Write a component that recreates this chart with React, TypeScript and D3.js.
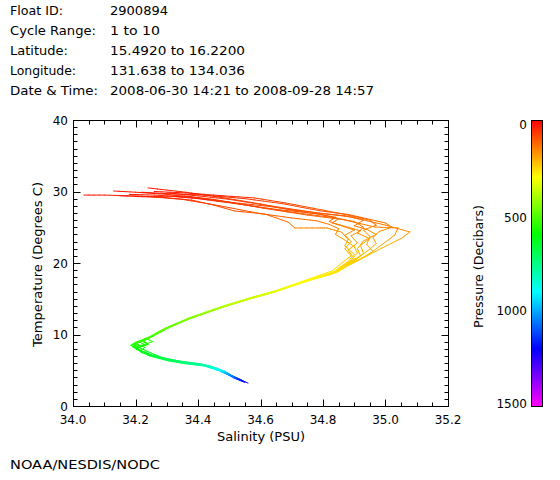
import React from "react";
import * as d3 from "d3";

type Pt = [number, number, number]; // salinity (PSU), temperature (°C), pressure (dbar)

const headerLabels = ["Float ID:", "Cycle Range:", "Latitude:", "Longitude:", "Date & Time:"];
const headerValues = [
  "2900894",
  "1 to 10",
  "15.4920 to 16.2200",
  "131.638 to 134.036",
  "2008-06-30 14:21 to 2008-09-28 14:57",
];
const salinityTicks = [34.0, 34.2, 34.4, 34.6, 34.8, 35.0, 35.2];
const temperatureTicks = [0, 10, 20, 30, 40];
const pressureTicks = [0, 500, 1000, 1500];

const cycle01: Pt[] = [
  [34.24, 30.5, 22], [34.30, 30.2, 32], [34.36, 29.9, 42], [34.44, 29.4, 55], [34.54, 28.7, 70],
  [34.66, 27.8, 90], [34.80, 26.9, 108], [34.893, 26.43, 120], [34.957, 25.73, 138], [35.00, 25.3, 148],
  [35.078, 24.34, 172], [35.053, 23.5, 190], [34.989, 22.1, 210], [34.934, 20.84, 230], [34.88, 19.8, 248],
  [34.845, 18.8, 268], [34.76, 17.7, 292], [34.65, 16.1, 328], [34.575, 15.2, 356], [34.49, 14.0, 388],
  [34.38, 12.4, 440], [34.305, 11.0, 482], [34.255, 9.8, 518], [34.21, 8.9, 552], [34.195, 8.4, 575],
  [34.22, 7.7, 612], [34.25, 7.2, 645], [34.30, 6.5, 695], [34.36, 6.1, 740], [34.41, 5.8, 785],
  [34.465, 5.1, 890], [34.505, 4.3, 1050], [34.535, 3.7, 1150], [34.56, 3.2, 1250],
];
const cycle02: Pt[] = [
  [34.13, 30.07, 22], [34.20, 29.9, 32], [34.30, 29.6, 42], [34.40, 29.1, 58], [34.50, 28.5, 72],
  [34.62, 27.6, 92], [34.75, 26.7, 112], [34.86, 26.1, 128], [34.92, 25.5, 142], [34.966, 25.03, 155],
  [35.04, 24.9, 160], [35.03, 23.92, 182], [34.957, 21.54, 220], [34.902, 20.14, 242], [34.87, 19.5, 255],
  [34.835, 18.6, 272], [34.745, 17.5, 296], [34.64, 15.9, 332], [34.565, 15.0, 360], [34.475, 13.8, 392],
  [34.37, 12.2, 448], [34.295, 10.8, 486], [34.245, 9.6, 522], [34.225, 9.1, 540], [34.24, 8.7, 560],
  [34.205, 8.2, 585], [34.215, 7.6, 620], [34.245, 7.0, 655], [34.305, 6.3, 705], [34.36, 5.9, 752],
  [34.42, 5.6, 800], [34.47, 4.9, 910], [34.51, 4.1, 1075],
];
const cycle03: Pt[] = [
  [34.035, 29.5, 22], [34.10, 29.5, 30], [34.246, 29.3, 40], [34.358, 29.37, 48], [34.45, 28.9, 62],
  [34.608, 27.69, 92], [34.72, 27.0, 105], [34.84, 26.3, 124], [34.90, 25.8, 136], [34.93, 25.0, 155],
  [34.91, 24.2, 175], [34.95, 23.4, 192], [34.92, 22.5, 205], [34.93, 21.3, 224], [34.90, 20.3, 240],
  [34.86, 19.44, 256], [34.83, 18.5, 275], [34.74, 17.4, 298], [34.635, 15.8, 334], [34.56, 14.9, 362],
  [34.47, 13.7, 395], [34.365, 12.1, 450], [34.29, 10.7, 490], [34.24, 9.5, 525], [34.19, 8.6, 565],
  [34.20, 8.0, 595], [34.235, 7.4, 630], [34.26, 6.9, 662], [34.315, 6.3, 708], [34.37, 5.9, 755],
  [34.425, 5.6, 805], [34.475, 4.8, 925], [34.515, 4.0, 1090], [34.545, 3.4, 1210],
];
const cycle04: Pt[] = [
  [34.20, 29.3, 22], [34.28, 29.2, 34], [34.38, 28.8, 52], [34.45, 28.1, 75], [34.518, 27.27, 98],
  [34.614, 26.85, 110], [34.688, 25.73, 138], [34.71, 24.9, 156], [34.784, 24.9, 160], [34.813, 24.9, 163],
  [34.86, 24.3, 176], [34.88, 23.3, 194], [34.87, 22.4, 206], [34.90, 21.2, 226], [34.88, 20.2, 242],
  [34.85, 19.3, 258], [34.825, 18.4, 277], [34.735, 17.3, 300], [34.63, 15.8, 334], [34.555, 14.9, 362],
  [34.465, 13.6, 398], [34.36, 12.0, 452], [34.285, 10.6, 492], [34.235, 9.4, 528], [34.255, 9.0, 545],
  [34.22, 8.5, 568], [34.19, 8.3, 580], [34.21, 7.8, 605], [34.24, 7.2, 645], [34.30, 6.6, 690],
  [34.355, 6.2, 735], [34.41, 5.9, 780], [34.46, 5.3, 860], [34.50, 4.5, 1000],
];
const cycle05: Pt[] = [
  [34.30, 29.8, 22], [34.35, 29.6, 34], [34.42, 29.3, 46], [34.50, 28.9, 60], [34.60, 28.2, 80],
  [34.70, 27.4, 97], [34.79, 26.8, 110], [34.85, 26.2, 126], [34.83, 25.6, 140], [34.88, 25.0, 155],
  [34.92, 24.5, 168], [34.89, 23.8, 184], [34.91, 22.8, 200], [34.88, 21.8, 214], [34.90, 20.6, 235],
  [34.87, 19.7, 250], [34.84, 18.7, 270], [34.755, 17.6, 294], [34.645, 16.0, 330], [34.57, 15.1, 358],
  [34.48, 13.9, 390], [34.375, 12.3, 445], [34.30, 10.9, 485], [34.25, 9.7, 520], [34.205, 8.8, 556],
  [34.215, 8.3, 580], [34.205, 7.9, 600], [34.225, 7.5, 625], [34.255, 7.0, 655], [34.31, 6.4, 700],
  [34.365, 6.0, 745], [34.415, 5.7, 795], [34.47, 5.0, 900], [34.51, 4.2, 1065], [34.54, 3.6, 1170],
];
const cycle06: Pt[] = [
  [34.18, 29.6, 22], [34.26, 29.5, 34], [34.37, 29.2, 50], [34.50, 28.5, 70], [34.63, 27.9, 86],
  [34.76, 27.1, 103], [34.87, 26.6, 116], [34.93, 26.0, 130], [34.90, 25.2, 150], [34.94, 24.7, 163],
  [34.97, 24.0, 180], [34.93, 23.1, 196], [34.91, 22.0, 212], [34.92, 21.0, 228], [34.89, 20.0, 245],
  [34.85, 19.0, 262], [34.765, 17.8, 290], [34.655, 16.2, 325], [34.58, 15.3, 352], [34.49, 14.1, 385],
  [34.385, 12.5, 438], [34.31, 11.1, 478], [34.26, 9.9, 515], [34.23, 9.2, 538], [34.20, 8.7, 560],
  [34.23, 8.2, 585], [34.215, 7.7, 612], [34.245, 7.1, 650], [34.30, 6.5, 695], [34.355, 6.1, 740],
  [34.405, 5.8, 785], [34.46, 5.2, 875], [34.50, 4.4, 1030],
];
const cycle07: Pt[] = [
  [34.32, 29.3, 22], [34.40, 29.0, 40], [34.52, 28.3, 70], [34.65, 27.5, 95], [34.78, 26.9, 107],
  [34.84, 26.4, 120], [34.82, 25.8, 136], [34.86, 25.2, 150], [34.90, 24.6, 165], [34.87, 23.9, 182],
  [34.89, 23.0, 198], [34.87, 22.0, 212], [34.89, 21.0, 228], [34.86, 20.0, 245], [34.83, 18.9, 265],
  [34.75, 17.7, 292], [34.64, 16.0, 330], [34.565, 15.1, 358], [34.475, 13.9, 390], [34.37, 12.3, 446],
  [34.295, 10.9, 486], [34.245, 9.7, 520], [34.20, 8.9, 552], [34.185, 8.5, 570], [34.21, 7.9, 600],
  [34.24, 7.3, 638], [34.27, 6.8, 670], [34.32, 6.3, 708], [34.375, 5.95, 750], [34.43, 5.6, 805],
  [34.48, 4.8, 930], [34.515, 3.9, 1105], [34.55, 3.3, 1235],
];
const cycle08: Pt[] = [
  [34.26, 30.0, 22], [34.36, 29.8, 32], [34.48, 29.4, 44], [34.58, 29.1, 58], [34.68, 28.4, 76],
  [34.80, 27.4, 98], [34.89, 26.6, 116], [34.95, 26.0, 130], [34.97, 25.3, 146], [34.93, 24.6, 165],
  [34.95, 23.7, 186], [34.94, 22.6, 203], [34.96, 21.6, 218], [34.92, 20.5, 238], [34.88, 19.6, 252],
  [34.845, 18.7, 270], [34.76, 17.6, 294], [34.65, 16.0, 330], [34.575, 15.1, 358], [34.485, 13.9, 390],
  [34.38, 12.3, 444], [34.305, 10.9, 484], [34.255, 9.7, 520], [34.215, 8.9, 552], [34.23, 8.5, 570],
  [34.20, 8.1, 590], [34.22, 7.6, 620], [34.25, 7.1, 650], [34.305, 6.5, 695], [34.36, 6.1, 742],
  [34.41, 5.75, 790], [34.465, 5.0, 900], [34.505, 4.2, 1060],
];
const cycle09: Pt[] = [
  [34.15, 29.4, 22], [34.24, 29.3, 36], [34.35, 28.9, 56], [34.47, 28.0, 85], [34.60, 26.9, 107],
  [34.70, 26.3, 122], [34.78, 25.9, 132], [34.82, 25.4, 145], [34.85, 24.8, 160], [34.84, 24.0, 180],
  [34.87, 23.2, 195], [34.90, 22.3, 208], [34.91, 21.4, 222], [34.89, 20.4, 238], [34.86, 19.5, 255],
  [34.83, 18.6, 272], [34.745, 17.5, 296], [34.64, 15.9, 332], [34.565, 15.0, 360], [34.475, 13.8, 392],
  [34.37, 12.2, 448], [34.295, 10.8, 488], [34.245, 9.6, 522], [34.21, 9.0, 548], [34.195, 8.6, 566],
  [34.22, 8.0, 596], [34.25, 7.4, 632], [34.285, 6.8, 670], [34.335, 6.3, 710], [34.39, 5.95, 752],
  [34.44, 5.6, 805], [34.485, 4.9, 915], [34.52, 4.0, 1090],
];
const cycle10: Pt[] = [
  [34.22, 29.9, 22], [34.30, 29.7, 30], [34.42, 29.5, 40], [34.55, 29.0, 56], [34.67, 28.3, 78],
  [34.79, 27.3, 99], [34.88, 26.8, 110], [34.94, 26.2, 126], [35.00, 25.6, 140], [35.02, 25.0, 155],
  [34.98, 24.4, 170], [34.96, 23.6, 188], [34.97, 22.7, 202], [34.94, 21.6, 218], [34.90, 20.5, 238],
  [34.87, 19.7, 250], [34.84, 18.8, 268], [34.755, 17.6, 294], [34.645, 16.0, 330], [34.57, 15.1, 358],
  [34.48, 13.9, 390], [34.375, 12.3, 446], [34.30, 10.9, 486], [34.25, 9.7, 520], [34.22, 9.1, 542],
  [34.24, 8.6, 565], [34.205, 8.1, 590], [34.22, 7.5, 625], [34.255, 7.0, 655], [34.31, 6.4, 700],
  [34.365, 6.0, 745], [34.42, 5.7, 795], [34.47, 5.0, 900], [34.51, 4.2, 1062], [34.545, 3.5, 1190],
];

const cycles = [cycle01, cycle02, cycle03, cycle04, cycle05, cycle06, cycle07, cycle08, cycle09, cycle10];

const FONT = "'DejaVu Sans', sans-serif";

export default function App() {
  const W = 560, H = 480;
  const L = 73, R = 448, T = 120, B = 406;
  const x = d3.scaleLinear().domain([34.0, 35.2]).range([L, R]);
  const y = d3.scaleLinear().domain([0, 40]).range([B, T]);
  const pBar = d3.scaleLinear().domain([0, 1500]).range([T, B]);
  const pLabel = d3.scaleLinear().domain([0, 1500]).range([124, 403]);
  const color = (p: number) => d3.hsl(Math.max(0, Math.min(300, (p / 1500) * 300)), 1, 0.5).formatHex();

  const xMinor = d3.range(34.0, 35.2001, 0.05);
  const yMinor = d3.range(0, 40.001, 1);

  const segs: JSX.Element[] = [];
  cycles.forEach((c, ci) => {
    for (let i = 1; i < c.length; i++) {
      const [s0, t0, p0] = c[i - 1];
      const [s1, t1, p1] = c[i];
      const n = 4;
      for (let k = 0; k < n; k++) {
        const a = k / n, b = (k + 1) / n, m = (a + b) / 2;
        segs.push(
          <line
            key={`${ci}-${i}-${k}`}
            x1={x(s0 + (s1 - s0) * a)}
            y1={y(t0 + (t1 - t0) * a)}
            x2={x(s0 + (s1 - s0) * b)}
            y2={y(t0 + (t1 - t0) * b)}
            stroke={color(p0 + (p1 - p0) * m)}
            strokeWidth={1}
            strokeLinecap="round"
          />
        );
      }
    }
  });

  const barRows = d3.range(T, B).map((py) => (
    <rect key={py} x={531} y={py} width={11} height={1} fill={color(pBar.invert(py + 0.5))} />
  ));

  const isMajorX = (v: number) => Math.abs(v * 5 - Math.round(v * 5)) < 1e-6;
  const isMajorY = (v: number) => Math.abs(v / 10 - Math.round(v / 10)) < 1e-6;

  return (
    <svg width={W} height={H} style={{ position: "absolute", left: 0, top: 0, background: "#fff" }} fontFamily={FONT} fontSize={12}>
      <rect x={0} y={0} width={W} height={H} fill="#fff" />
      {headerLabels.map((t, i) => (
        <text key={"hl" + i} x={10} y={15 + i * 20} textLength={[53, 86, 58, 66, 88][i]} lengthAdjust="spacingAndGlyphs">{t}</text>
      ))}
      {headerValues.map((t, i) => (
        <text key={"hv" + i} x={110} y={15 + i * 20} textLength={[58, 50, 135, 135, 264][i]} lengthAdjust="spacingAndGlyphs">{t}</text>
      ))}

      <g>{segs}</g>

      <g transform="translate(0.5,0.5)" stroke="#000" strokeWidth={1} fill="none">
        <rect x={L} y={T} width={R - L} height={B - T} />
        {xMinor.map((v, i) => {
          const len = isMajorX(v) ? 7 : 4;
          const px = Math.round(x(v));
          return (
            <g key={"xt" + i}>
              <line x1={px} x2={px} y1={B} y2={B - len} />
              <line x1={px} x2={px} y1={T} y2={T + len} />
            </g>
          );
        })}
        {yMinor.map((v, i) => {
          const len = isMajorY(v) ? 7 : 4;
          const py = Math.round(y(v));
          return (
            <g key={"yt" + i}>
              <line x1={L} x2={L + len} y1={py} y2={py} />
              <line x1={R} x2={R - len} y1={py} y2={py} />
            </g>
          );
        })}
      </g>

      {salinityTicks.map((v) => (
        <text key={"xl" + v} x={x(v)} y={423.5} textAnchor="middle">{v.toFixed(1)}</text>
      ))}
      {temperatureTicks.map((v) => (
        <text key={"yl" + v} x={68} y={y(v) + 4.5} textAnchor="end">{v}</text>
      ))}
      <text x={(L + R) / 2 + 0.5} y={441} textAnchor="middle" textLength={88} lengthAdjust="spacingAndGlyphs">Salinity (PSU)</text>
      <text transform="translate(42,264.5) rotate(-90)" textAnchor="middle" textLength={165} lengthAdjust="spacingAndGlyphs">Temperature (Degrees C)</text>

      <g>{barRows}</g>
      <rect x={531.5} y={T + 0.5} width={11} height={B - T} fill="none" stroke="#000" strokeWidth={1} />
      {pressureTicks.map((v) => (
        <text key={"pl" + v} x={527} y={pLabel(v) + 4.5} textAnchor="end">{v}</text>
      ))}
      <text transform="translate(483,266.5) rotate(-90)" textAnchor="middle" textLength={123} lengthAdjust="spacingAndGlyphs">Pressure (Decibars)</text>

      <text x={10} y={469} textLength={150} lengthAdjust="spacingAndGlyphs">NOAA/NESDIS/NODC</text>
    </svg>
  );
}
